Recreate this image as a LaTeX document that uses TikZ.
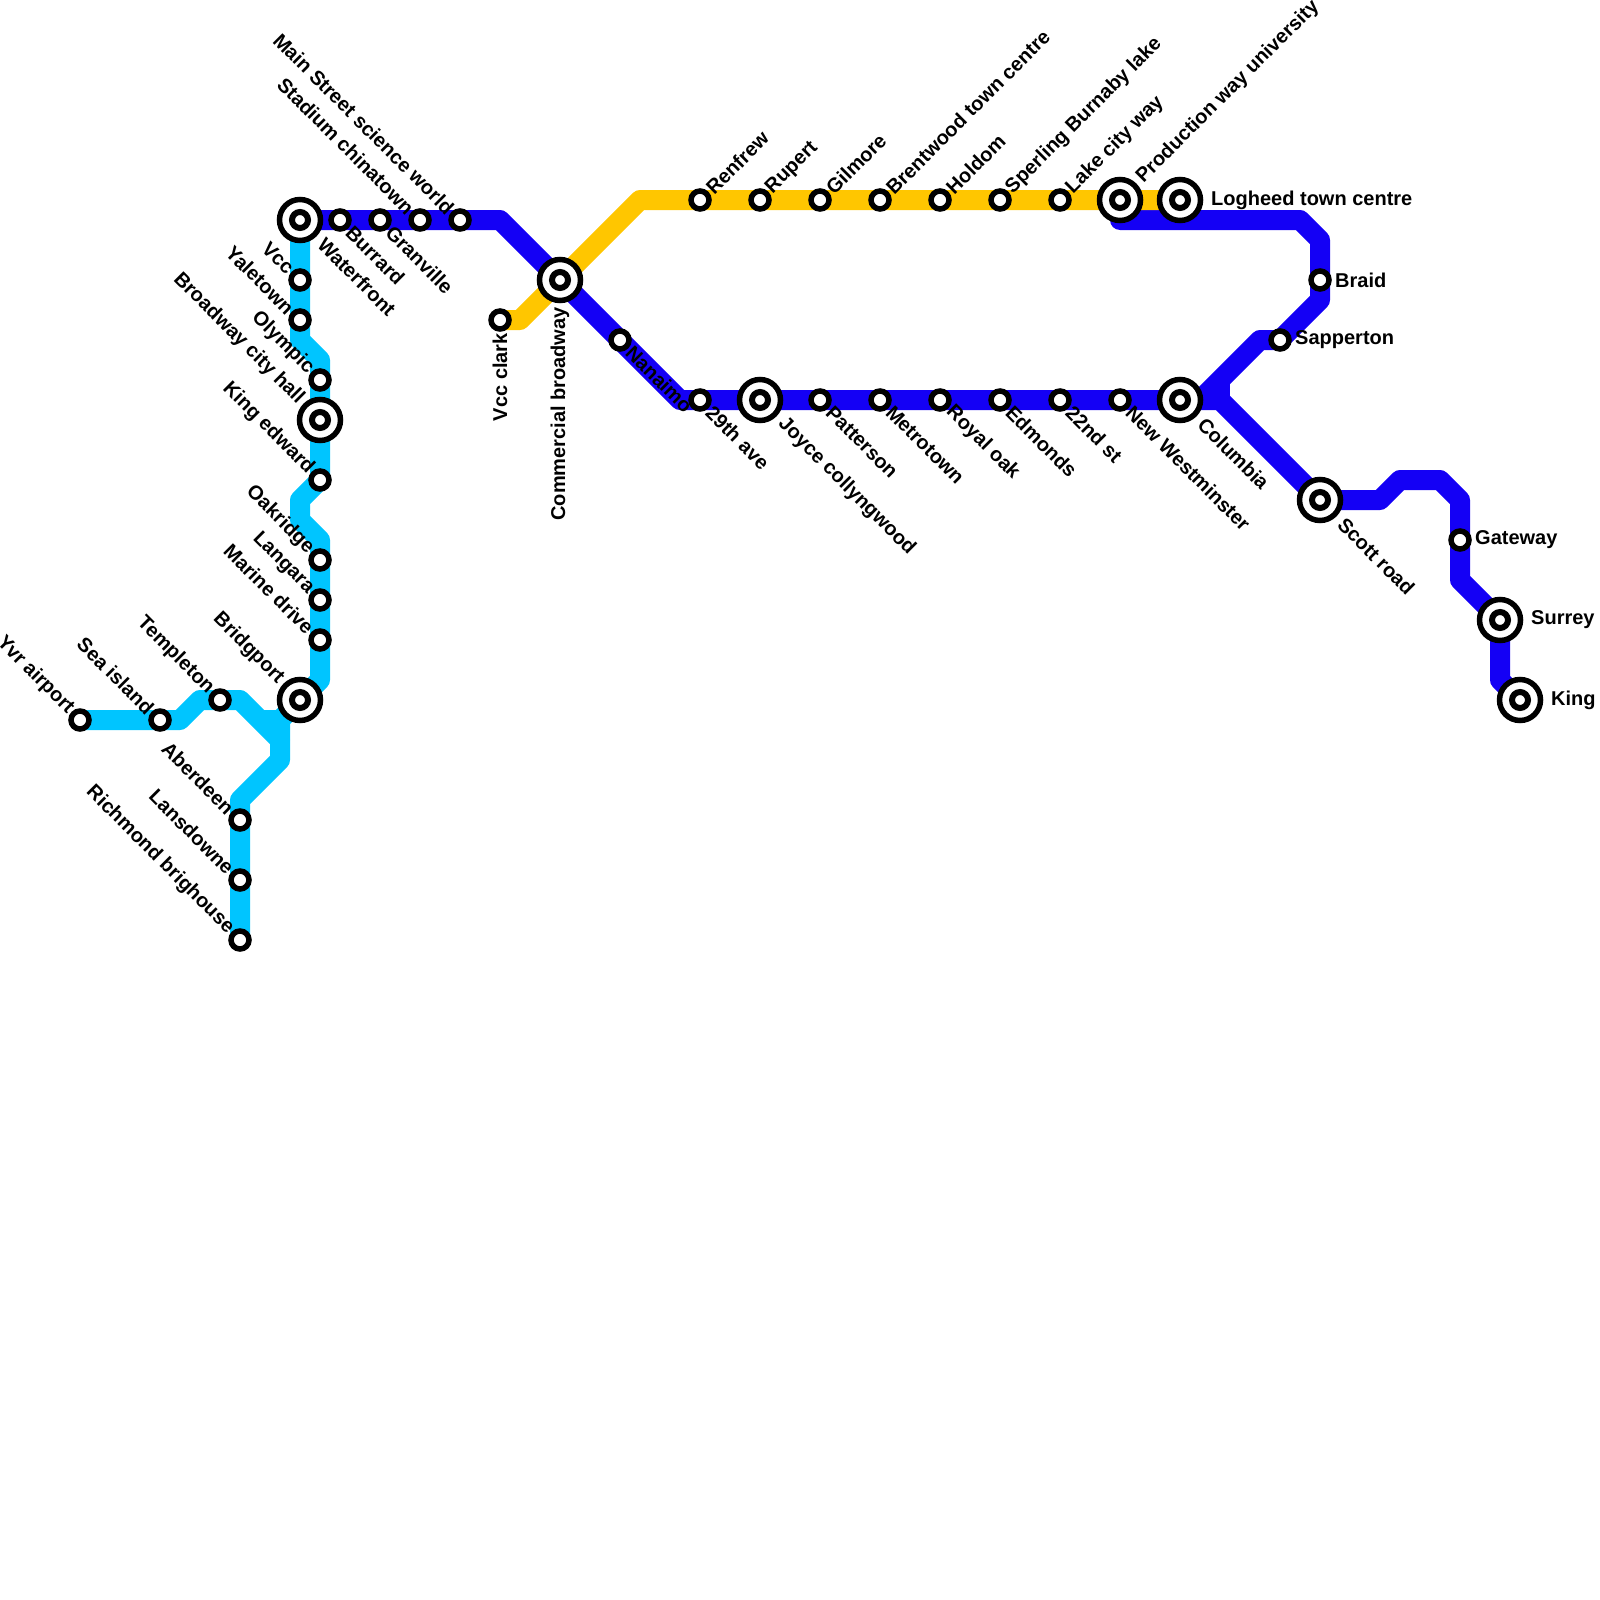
\documentclass[tikz,border=0pt]{standalone}
\usepackage{fontspec}
\newfontfamily\labfont{Liberation Sans Bold}
\definecolor{lcyan}{HTML}{00C5FF}
\definecolor{lblue}{HTML}{1400F5}
\definecolor{lyellow}{HTML}{FFC600}
\pgfdeclarelayer{lines}
\pgfsetlayers{lines,main}
\tikzset{
  x=1pt,y=-1pt,
  metro/.style={line width=20pt,line join=round,line cap=butt},
  cyanline/.style={metro,draw=lcyan},
  blueline/.style={metro,draw=lblue},
  yellowline/.style={metro,draw=lyellow},
  small/.style={circle,draw=black,fill=white,line width=5.5pt,minimum size=18pt,inner sep=0pt,outer sep=0pt},
  hub/.style={circle,draw=black,fill=white,line width=5.5pt,minimum size=41pt,inner sep=0pt,outer sep=0pt},
  dotring/.style={circle,draw=black,fill=white,line width=6pt,minimum size=16pt,inner sep=0pt,outer sep=0pt},
  lab/.style={font=\labfont\fontsize{20}{22}\selectfont,inner sep=0pt,text=black},
  ur/.style={lab,rotate=45,anchor=west,xshift=13pt},
  dr/.style={lab,rotate=-45,anchor=west,xshift=13pt},
  ul/.style={lab,rotate=-45,anchor=east,xshift=-13pt},
  rr/.style={lab,anchor=west,xshift=15pt},
  dd/.style={lab,rotate=90,anchor=east,xshift=-13pt},
  urh/.style={lab,rotate=45,anchor=west,xshift=28pt},
  drh/.style={lab,rotate=-45,anchor=west,xshift=30pt},
  ulh/.style={lab,rotate=-45,anchor=east,xshift=-27pt},
  rrh/.style={lab,anchor=west,xshift=31pt},
  ddh/.style={lab,rotate=90,anchor=east,xshift=-27pt},
}
\newcommand\stn[5]{%
  \node[small] (#1) at (#2,#3) {};
  \node[#4] (#1-t) at (#2,#3) {#5};}
\newcommand\hubn[5]{%
  \node[hub] (#1) at (#2,#3) {};
  \node[dotring] (#1-c) at (#2,#3) {};
  \node[#4] (#1-t) at (#2,#3) {#5};}
\begin{document}
\begin{tikzpicture}
\useasboundingbox (0,0) rectangle (1600,1600);
\clip (0,0) rectangle (1600,1600);
% cyan line stations
\hubn{wf}{300}{220}{drh}{Waterfront}
\stn{vcc}{300}{280}{ul}{Vcc}
\stn{yal}{300}{320}{ul}{Yaletown}
\stn{oly}{320}{380}{ul}{Olympic}
\hubn{bch}{320}{420}{ulh}{Broadway city hall}
\stn{ked}{320}{480}{ul}{King edward}
\stn{oak}{320}{560}{ul}{Oakridge}
\stn{lan}{320}{600}{ul}{Langara}
\stn{mar}{320}{640}{ul}{Marine drive}
\hubn{bri}{300}{700}{ulh}{Bridgport}
\stn{tem}{220}{700}{ul}{Templeton}
\stn{sea}{160}{720}{ul}{Sea island}
\stn{yvr}{80}{720}{ul}{Yvr airport}
\stn{abe}{240}{820}{ul}{Aberdeen}
\stn{lsd}{240}{880}{ul}{Lansdowne}
\stn{ric}{240}{940}{ul}{Richmond brighouse}
% blue line stations
\stn{bur}{340}{220}{dr}{Burrard}
\stn{gra}{380}{220}{dr}{Granville}
\stn{sta}{420}{220}{ul}{Stadium chinatown}
\stn{mai}{460}{220}{ul}{Main Street science world}
\hubn{com}{560}{280}{ddh}{Commercial broadway}
\stn{nan}{620}{340}{dr}{Nanaimo}
\stn{ave}{700}{400}{dr}{29th ave}
\hubn{joy}{760}{400}{drh}{Joyce collyngwood}
\stn{pat}{820}{400}{dr}{Patterson}
\stn{met}{880}{400}{dr}{Metrotown}
\stn{roy}{940}{400}{dr}{Royal oak}
\stn{edm}{1000}{400}{dr}{Edmonds}
\stn{nd}{1060}{400}{dr}{22nd st}
\stn{new}{1120}{400}{dr}{New Westminster}
\hubn{col}{1180}{400}{drh}{Columbia}
\hubn{sco}{1320}{500}{drh}{Scott road}
\stn{gat}{1460}{540}{rr}{Gateway}
\hubn{sur}{1500}{620}{rrh}{Surrey c}
\hubn{kin}{1520}{700}{rrh}{King}
\stn{sap}{1280}{340}{rr}{Sapperton}
\stn{bra}{1320}{280}{rr}{Braid}
% yellow line stations
\stn{cla}{500}{320}{dd}{Vcc clark}
\stn{ren}{700}{200}{ur}{Renfrew}
\stn{rup}{760}{200}{ur}{Rupert}
\stn{gil}{820}{200}{ur}{Gilmore}
\stn{bre}{880}{200}{ur}{Brentwood town centre}
\stn{hol}{940}{200}{ur}{Holdom}
\stn{spe}{1000}{200}{ur}{Sperling Burnaby lake}
\stn{lak}{1060}{200}{ur}{Lake city way}
\hubn{pro}{1120}{200}{urh}{Production way university}
\hubn{log}{1180}{200}{rrh}{Logheed town centre}
% bends
\coordinate (c1) at (300,340);
\coordinate (c2) at (320,360);
\coordinate (c3) at (300,500);
\coordinate (c4) at (300,520);
\coordinate (c5) at (320,540);
\coordinate (c6) at (320,680);
\coordinate (c7) at (180,720);
\coordinate (c8) at (200,700);
\coordinate (c9) at (240,700);
\coordinate (c10) at (280,740);
\coordinate (c11) at (280,760);
\coordinate (c12) at (240,800);
\coordinate (c13) at (280,720);
\coordinate (c14) at (260,720);
\coordinate (c15) at (290,720);
\coordinate (b1) at (500,220);
\coordinate (b2) at (680,400);
\coordinate (b3) at (1220,400);
\coordinate (b4) at (1220,380);
\coordinate (b5) at (1260,340);
\coordinate (b6) at (1320,300);
\coordinate (b7) at (1320,240);
\coordinate (b8) at (1300,220);
\coordinate (b9) at (1120,220);
\coordinate (b10) at (1380,500);
\coordinate (b11) at (1400,480);
\coordinate (b12) at (1440,480);
\coordinate (b13) at (1460,500);
\coordinate (b14) at (1460,580);
\coordinate (b15) at (1500,680);
\coordinate (b16) at (1200,400);
\coordinate (y1) at (520,320);
\coordinate (y2) at (640,200);
\begin{pgfonlayer}{lines}
\draw[blueline] (wf.center) -- (b1) -- (com.center) -- (nan.center) -- (b2) -- (b3) -- (sco.center) -- (b10) -- (b11) -- (b12) -- (b13) -- (b14) -- (sur.center) -- (b15) -- (kin.center);
\draw[blueline] (b16) -- (b5) -- (sap.center) -- (b6) -- (b7) -- (b8) -- (b9) -- (pro.center);
\draw[blueline] (b3) -- (b4);
\draw[yellowline] (cla.center) -- (y1) -- (y2) -- (log.center);
\draw[cyanline] (wf.center) -- (c1) -- (c2) -- (ked.center) -- (c3) -- (c4) -- (c5) -- (c6) -- (bri.center) -- (c13) -- (c10);
\draw[cyanline] (yvr.center) -- (c7) -- (c8) -- (c9) -- (c10) -- (c11) -- (c12) -- (ric.center);
\draw[cyanline] (c14) -- (c15);
\end{pgfonlayer}
\end{tikzpicture}
\end{document}
